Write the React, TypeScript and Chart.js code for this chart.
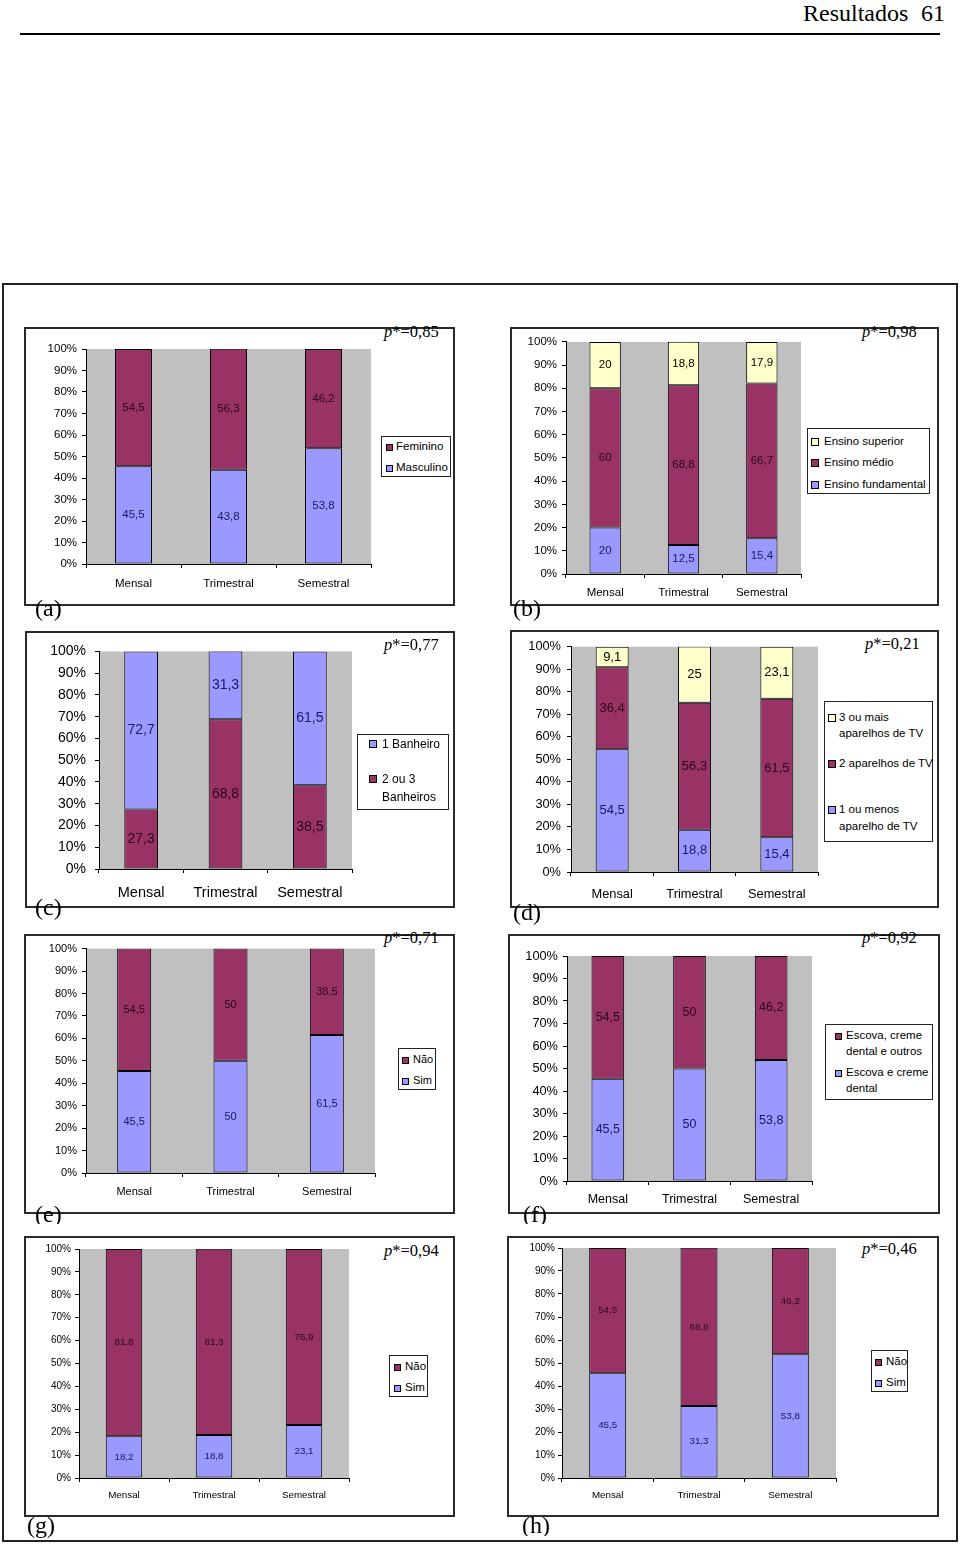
import React, { useEffect, useRef } from 'react';
import { Chart, registerables } from 'chart.js';

Chart.register(...registerables);

// ---------------- DATA ----------------
const categories = ['Mensal', 'Trimestral', 'Semestral'];
const yMin = 0;
const yMax = 100;
const yStep = 10;

// (a)
const aMasculino = [45.5, 43.8, 53.8];
const aFeminino = [54.5, 56.3, 46.2];
const aLegendFem = ['Feminino'];
const aLegendMasc = ['Masculino'];
const aP = '=0,85';

// (b)
const bFundamental = [20, 12.5, 15.4];
const bMedio = [60, 68.8, 66.7];
const bSuperior = [20, 18.8, 17.9];
const bLegendSup = ['Ensino superior'];
const bLegendMed = ['Ensino médio'];
const bLegendFund = ['Ensino fundamental'];
const bP = '=0,98';

// (c)
const c2ou3 = [27.3, 68.8, 38.5];
const c1Banheiro = [72.7, 31.3, 61.5];
const cLegend1 = ['1 Banheiro'];
const cLegend2 = ['2 ou 3', 'Banheiros'];
const cP = '=0,77';

// (d)
const d1ouMenos = [54.5, 18.8, 15.4];
const d2Aparelhos = [36.4, 56.3, 61.5];
const d3ouMais = [9.1, 25, 23.1];
const dLegend3 = ['3 ou mais', 'aparelhos de TV'];
const dLegend2 = ['2 aparelhos de TV'];
const dLegend1 = ['1 ou menos', 'aparelho de TV'];
const dP = '=0,21';

// (e)
const eSim = [45.5, 50, 61.5];
const eNao = [54.5, 50, 38.5];
const eP = '=0,71';

// (f)
const fEscovaCreme = [45.5, 50, 53.8];
const fEscovaOutros = [54.5, 50, 46.2];
const fLegendOutros = ['Escova, creme', 'dental e outros'];
const fLegendCreme = ['Escova e creme', 'dental'];
const fP = '=0,92';

// (g)
const gSim = [18.2, 18.8, 23.1];
const gNao = [81.8, 81.3, 76.9];
const gP = '=0,94';

// (h)
const hSim = [45.5, 31.3, 53.8];
const hNao = [54.5, 68.8, 46.2];
const hP = '=0,46';

const legendNao = ['Não'];
const legendSim = ['Sim'];

const headerTitle = 'Resultados';
const headerPage = '61';

// ---------------- STYLE ----------------
const SANS = "'Liberation Sans', Arial, Helvetica, sans-serif";
const SERIF = "'Liberation Serif', 'Times New Roman', Times, serif";
const BLUE = '#9999FF';
const MAROON = '#993366';
const YELLOW = '#FFFFCC';
const PLOT_BG = '#C0C0C0';
const TXT_BLUE = '#1a1a5e';
const TXT_MAROON = '#2a0818';
const TXT_YELLOW = '#000000';

type Series = { name: string; data: number[]; color: string; text: string };
type LegendRow = { series: number; lines: string[]; ys: number[] };
type PanelCfg = {
  tag: string;
  p: string;
  series: Series[];
  panel: [number, number, number, number];
  plot: [number, number, number, number];
  xLabelY: number;
  tickFont: number;
  xFont: number;
  dataFont: number;
  yPad: number;
  barFrac: number;
  legendBox: [number, number, number, number];
  swatchX: number;
  swatch: number;
  textX: number;
  legendFont: number;
  legendRows: LegendRow[];
  pPos: [number, number];
  tagPos: [number, number, number | null];
};

const S = (name: string, data: number[], color: string, text: string): Series => ({ name, data, color, text });

const panels: PanelCfg[] = [
  {
    tag: '(a)', p: aP,
    series: [S('Masculino', aMasculino, BLUE, TXT_BLUE), S('Feminino', aFeminino, MAROON, TXT_MAROON)],
    panel: [25, 328, 429, 277], plot: [86, 349, 371, 564], xLabelY: 584,
    tickFont: 11.5, xFont: 11.5, dataFont: 11.5, yPad: 5, barFrac: 0.39,
    legendBox: [381, 436, 70, 41], swatchX: 386, swatch: 7, textX: 396, legendFont: 11.5,
    legendRows: [{ series: 1, lines: aLegendFem, ys: [447] }, { series: 0, lines: aLegendMasc, ys: [468] }],
    pPos: [384, 332], tagPos: [35, 610, null],
  },
  {
    tag: '(b)', p: bP,
    series: [S('Ensino fundamental', bFundamental, BLUE, TXT_BLUE), S('Ensino médio', bMedio, MAROON, TXT_MAROON), S('Ensino superior', bSuperior, YELLOW, TXT_YELLOW)],
    panel: [511, 328, 427, 277], plot: [566, 341, 801, 574], xLabelY: 593,
    tickFont: 11.5, xFont: 11.5, dataFont: 11.5, yPad: 5, barFrac: 0.4,
    legendBox: [807, 428, 123, 66], swatchX: 811, swatch: 8, textX: 824, legendFont: 11.5,
    legendRows: [{ series: 2, lines: bLegendSup, ys: [442] }, { series: 1, lines: bLegendMed, ys: [463] }, { series: 0, lines: bLegendFund, ys: [485] }],
    pPos: [862, 332], tagPos: [513, 610, null],
  },
  {
    tag: '(c)', p: cP,
    series: [S('2 ou 3 Banheiros', c2ou3, MAROON, TXT_MAROON), S('1 Banheiro', c1Banheiro, BLUE, TXT_BLUE)],
    panel: [26, 632, 428, 275], plot: [99, 646, 352, 869], xLabelY: 893,
    tickFont: 14, xFont: 14.5, dataFont: 14, yPad: 9, barFrac: 0.4,
    legendBox: [357, 734, 92, 76], swatchX: 369, swatch: 8, textX: 382, legendFont: 12,
    legendRows: [{ series: 1, lines: cLegend1, ys: [744] }, { series: 0, lines: cLegend2, ys: [779, 797] }],
    pPos: [384, 645], tagPos: [35, 909, null],
  },
  {
    tag: '(d)', p: dP,
    series: [S('1 ou menos aparelho de TV', d1ouMenos, BLUE, TXT_BLUE), S('2 aparelhos de TV', d2Aparelhos, MAROON, TXT_MAROON), S('3 ou mais aparelhos de TV', d3ouMais, YELLOW, TXT_YELLOW)],
    panel: [511, 631, 427, 276], plot: [571, 644, 818, 872], xLabelY: 894,
    tickFont: 12.8, xFont: 12.8, dataFont: 13, yPad: 6, barFrac: 0.4,
    legendBox: [824, 701, 109, 141], swatchX: 828, swatch: 8, textX: 839, legendFont: 11.5,
    legendRows: [{ series: 2, lines: dLegend3, ys: [718, 734] }, { series: 1, lines: dLegend2, ys: [764] }, { series: 0, lines: dLegend1, ys: [810, 827] }],
    pPos: [865, 644], tagPos: [513, 914, null],
  },
  {
    tag: '(e)', p: eP,
    series: [S('Sim', eSim, BLUE, TXT_BLUE), S('Não', eNao, MAROON, TXT_MAROON)],
    panel: [25, 935, 429, 278], plot: [86, 946, 375, 1173], xLabelY: 1192,
    tickFont: 11, xFont: 11, dataFont: 11, yPad: 5, barFrac: 0.353,
    legendBox: [398, 1048, 38, 42], swatchX: 402, swatch: 7, textX: 413, legendFont: 11,
    legendRows: [{ series: 1, lines: legendNao, ys: [1060] }, { series: 0, lines: legendSim, ys: [1081] }],
    pPos: [384, 938], tagPos: [35, 1216, 1224],
  },
  {
    tag: '(f)', p: fP,
    series: [S('Escova e creme dental', fEscovaCreme, BLUE, TXT_BLUE), S('Escova, creme dental e outros', fEscovaOutros, MAROON, TXT_MAROON)],
    panel: [509, 935, 430, 278], plot: [567, 956, 812, 1181], xLabelY: 1200,
    tickFont: 12.8, xFont: 12.5, dataFont: 12.5, yPad: 5, barFrac: 0.4,
    legendBox: [825, 1024, 108, 76], swatchX: 835, swatch: 7, textX: 846, legendFont: 11.5,
    legendRows: [{ series: 1, lines: fLegendOutros, ys: [1036, 1052] }, { series: 0, lines: fLegendCreme, ys: [1073, 1089] }],
    pPos: [862, 938], tagPos: [523, 1216, 1224],
  },
  {
    tag: '(g)', p: gP,
    series: [S('Sim', gSim, BLUE, TXT_BLUE), S('Não', gNao, MAROON, TXT_MAROON)],
    panel: [25, 1237, 429, 279], plot: [79, 1248, 349, 1478], xLabelY: 1495,
    tickFont: 10, xFont: 9.8, dataFont: 9.8, yPad: 4, barFrac: 0.405,
    legendBox: [389, 1355, 39, 42], swatchX: 394, swatch: 7, textX: 405, legendFont: 11.5,
    legendRows: [{ series: 1, lines: legendNao, ys: [1367] }, { series: 0, lines: legendSim, ys: [1388] }],
    pPos: [384, 1251], tagPos: [27, 1527, null],
  },
  {
    tag: '(h)', p: hP,
    series: [S('Sim', hSim, BLUE, TXT_BLUE), S('Não', hNao, MAROON, TXT_MAROON)],
    panel: [508, 1237, 430, 279], plot: [562, 1248, 836, 1478], xLabelY: 1495,
    tickFont: 10, xFont: 9.8, dataFont: 9.8, yPad: 3, barFrac: 0.405,
    legendBox: [871, 1350, 37, 42], swatchX: 875, swatch: 7, textX: 886, legendFont: 11.5,
    legendRows: [{ series: 1, lines: legendNao, ys: [1362] }, { series: 0, lines: legendSim, ys: [1383] }],
    pPos: [862, 1249], tagPos: [522, 1527, 1536],
  },
];

const fmt = (v: number) => String(v).replace('.', ',');

const TICK_LEN = 4;

function StackedChart({ cfg }: { cfg: PanelCfg }) {
  const ref = useRef<HTMLCanvasElement | null>(null);
  const [px, py, pw, ph] = cfg.panel;
  const [l, t, r, b] = cfg.plot;
  const cl = px + 2;
  const ct = py + 2;
  const cr = r + 6;
  const cb = py + ph - 2;
  const cw = cr - cl;
  const ch = cb - ct;

  useEffect(() => {
    if (!ref.current) return;
    const bgPlugin = {
      id: 'plotBg',
      beforeDraw(chart: any) {
        const { ctx, chartArea } = chart;
        ctx.save();
        ctx.fillStyle = PLOT_BG;
        ctx.fillRect(chartArea.left, chartArea.top, chartArea.right - chartArea.left, chartArea.bottom - chartArea.top);
        ctx.restore();
      },
    };
    const labelPlugin = {
      id: 'segLabels',
      afterDatasetsDraw(chart: any) {
        const ctx = chart.ctx;
        ctx.save();
        ctx.font = `${cfg.dataFont}px ${SANS}`;
        ctx.textAlign = 'center';
        ctx.textBaseline = 'middle';
        chart.data.datasets.forEach((ds: any, i: number) => {
          const meta = chart.getDatasetMeta(i);
          meta.data.forEach((el: any, j: number) => {
            const p = el.getProps(['x', 'y', 'base'], true);
            ctx.fillStyle = cfg.series[i].text;
            ctx.fillText(fmt(ds.data[j]), p.x, (p.y + p.base) / 2);
          });
        });
        ctx.restore();
      },
    };
    const chart = new Chart(ref.current, {
      type: 'bar',
      data: {
        labels: categories,
        datasets: cfg.series.map((s) => ({
          label: s.name,
          data: s.data,
          backgroundColor: s.color,
          borderColor: '#000',
          borderWidth: 1,
          borderSkipped: false,
          categoryPercentage: 1,
          barPercentage: cfg.barFrac,
        })),
      },
      options: {
        animation: false,
        responsive: false,
        maintainAspectRatio: false,
        devicePixelRatio: 1,
        layout: { padding: { top: t - ct, right: cr - r, left: 0, bottom: 0 } },
        plugins: { legend: { display: false }, tooltip: { enabled: false }, title: { display: false } },
        scales: {
          x: {
            stacked: true,
            grid: { display: true, offset: true, drawOnChartArea: false, drawTicks: true, tickLength: TICK_LEN, color: '#000' },
            border: { display: true, color: '#000', width: 1 },
            ticks: {
              color: '#000',
              font: { family: SANS, size: cfg.xFont },
              padding: cfg.xLabelY - b - TICK_LEN - 0.6 * cfg.xFont,
              maxRotation: 0,
              autoSkip: false,
            },
            afterFit: (s: any) => { s.height = cb - b; },
          },
          y: {
            stacked: true,
            min: yMin,
            max: yMax,
            grid: { display: true, drawOnChartArea: false, drawTicks: true, tickLength: TICK_LEN, color: '#000' },
            border: { display: true, color: '#000', width: 1 },
            ticks: {
              stepSize: yStep,
              color: '#000',
              font: { family: SANS, size: cfg.tickFont },
              padding: cfg.yPad,
              callback: (v: any) => `${v}%`,
            },
            afterFit: (s: any) => { s.width = l - cl; },
          },
        },
      } as any,
      plugins: [bgPlugin, labelPlugin],
    });
    return () => chart.destroy();
  }, []);

  return (
    <canvas
      ref={ref}
      width={cw}
      height={ch}
      style={{ position: 'absolute', left: cl, top: ct, width: cw, height: ch }}
    />
  );
}

function Panel({ cfg }: { cfg: PanelCfg }) {
  const [px, py, pw, ph] = cfg.panel;
  const [lx, ly, lw, lh] = cfg.legendBox;
  const [tx, tcy, tclip] = cfg.tagPos;
  const tagTop = tcy - 14;
  return (
    <>
      <div
        style={{
          position: 'absolute', left: px - 1, top: py - 1, width: pw + 2, height: ph + 2,
          border: '2px solid #2a2a2a', boxSizing: 'border-box', background: '#fff',
        }}
      />
      <StackedChart cfg={cfg} />
      <div
        style={{
          position: 'absolute', left: lx, top: ly, width: lw, height: lh,
          border: '1.5px solid #222', boxSizing: 'border-box', background: '#fff',
        }}
      />
      {cfg.legendRows.map((row, ri) => (
        <React.Fragment key={ri}>
          <div
            style={{
              position: 'absolute', left: cfg.swatchX, top: row.ys[0] - cfg.swatch / 2,
              width: cfg.swatch, height: cfg.swatch, background: cfg.series[row.series].color,
              border: '1px solid #000', boxSizing: 'border-box',
            }}
          />
          {row.lines.map((line, li) => (
            <div
              key={li}
              style={{
                position: 'absolute', left: cfg.textX, top: row.ys[li] - cfg.legendFont * 0.6,
                fontFamily: SANS, fontSize: cfg.legendFont, lineHeight: `${cfg.legendFont * 1.2}px`,
                whiteSpace: 'nowrap', color: '#000',
              }}
            >
              {line}
            </div>
          ))}
        </React.Fragment>
      ))}
      <div
        style={{
          position: 'absolute', left: cfg.pPos[0], top: cfg.pPos[1] - 8,
          fontFamily: SERIF, fontSize: 16.5, lineHeight: '16.5px', whiteSpace: 'nowrap', color: '#000',
        }}
      >
        <i>p</i>*{cfg.p}
      </div>
      <div
        style={{
          position: 'absolute', left: tx, top: tagTop, width: 40,
          height: tclip ? tclip - tagTop : 30, overflow: 'hidden',
        }}
      >
        <div style={{ fontFamily: SERIF, fontSize: 24, lineHeight: '24px', whiteSpace: 'nowrap', color: '#000' }}>
          {cfg.tag}
        </div>
      </div>
    </>
  );
}

export default function App() {
  return (
    <div
      style={{
        position: 'absolute', left: 0, top: 0, width: 960, height: 1544,
        background: '#fff', overflow: 'hidden',
      }}
    >
      <div style={{ position: 'absolute', left: 803, top: 1, fontFamily: SERIF, fontSize: 24, lineHeight: '24px', whiteSpace: 'nowrap' }}>
        {headerTitle}
      </div>
      <div style={{ position: 'absolute', left: 921, top: 1, fontFamily: SERIF, fontSize: 24, lineHeight: '24px', whiteSpace: 'nowrap' }}>
        {headerPage}
      </div>
      <div style={{ position: 'absolute', left: 20, top: 33, width: 920, height: 2, background: '#000' }} />
      <div
        style={{
          position: 'absolute', left: 2, top: 283, width: 956, height: 1259,
          border: '2px solid #222', boxSizing: 'border-box',
        }}
      />
      {panels.map((p, i) => (
        <Panel key={i} cfg={p} />
      ))}
    </div>
  );
}
